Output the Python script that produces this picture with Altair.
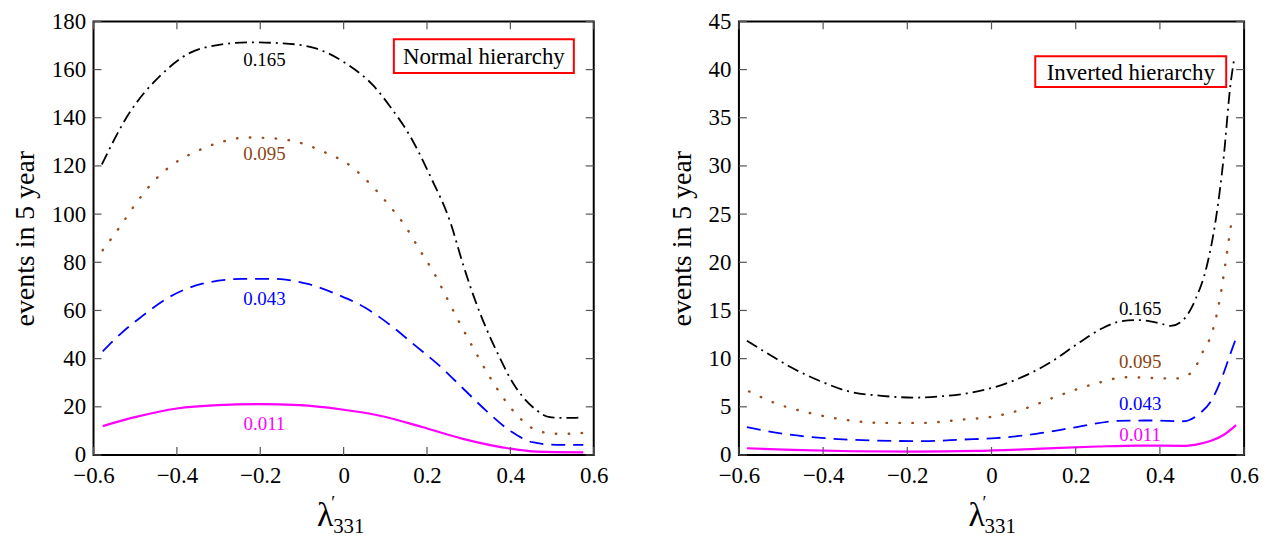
import altair as alt
import pandas as pd

FONT = "Liberation Serif, Times New Roman, Times, serif"

# ---------------- Normal hierarchy (left panel) ----------------
nh_165_x = [-0.58, -0.518, -0.439, -0.341, -0.224, -0.145, -0.067, 0.012, 0.071, 0.110, 0.159, 0.208,
            0.257, 0.286, 0.316, 0.345, 0.375, 0.404, 0.433, 0.463, 0.492, 0.522, 0.551, 0.575]
nh_165_y = [120.6, 140.9, 157.6, 168.8, 171.3, 170.9, 168.8, 161.8, 153.4, 145.0, 132.5, 115.7,
            96.1, 79.4, 64.0, 51.4, 40.2, 30.5, 23.5, 18.6, 15.8, 15.4, 15.4, 15.8]

nh_095_x = [-0.578, -0.537, -0.498, -0.459, -0.41, -0.351, -0.292, -0.233, -0.165, -0.106, -0.047, 0.012,
            0.061, 0.105, 0.149, 0.183, 0.218, 0.247, 0.276, 0.311, 0.345, 0.384, 0.424, 0.463, 0.512,
            0.551, 0.575]
nh_095_y = [85, 94.7, 104.5, 113, 120.6, 126.2, 130, 131.8, 131.4, 129.7, 125.8, 120.6,
            113, 104.5, 94.7, 85, 75.2, 65.4, 55.6, 44.4, 34, 23.5, 15.1, 10.2, 8.8,
            8.8, 9.2]

nh_043_x = [-0.578, -0.537, -0.488, -0.42, -0.341, -0.243, -0.165, -0.086, -0.008, 0.051, 0.11, 0.169,
            0.227, 0.286, 0.345, 0.404, 0.453, 0.512, 0.575]
nh_043_y = [43, 50, 57, 65.4, 71, 73.1, 73.1, 71, 66.1, 61.2, 54.2, 45.8,
            37.5, 27.7, 17.9, 9.5, 5.3, 4.2, 4.2]

nh_011_x = [-0.578, -0.498, -0.4, -0.302, -0.204, -0.106, -0.008, 0.09, 0.188, 0.286, 0.394, 0.463, 0.575]
nh_011_y = [12, 15.8, 19.3, 20.7, 21.1, 20.7, 19, 16.2, 11.6, 6.7, 2.8, 1.4, 1.1]

nh_label_text = ["0.165", "0.095", "0.043", "0.011"]
nh_label_x = [-0.19, -0.19, -0.19, -0.19]
nh_label_y = [164, 124.8, 64.7, 12.7]

# ---------------- Inverted hierarchy (right panel) ----------------
ih_165_x = [-0.581, -0.523, -0.474, -0.406, -0.339, -0.261, -0.184, -0.126, -0.058, 0.0, 0.068, 0.145,
            0.203, 0.261, 0.31, 0.349, 0.397, 0.426, 0.455, 0.484, 0.513, 0.533, 0.552, 0.567, 0.576]
ih_165_y = [11.86, 10.3, 9.05, 7.65, 6.6, 6.14, 5.96, 6.07, 6.4, 6.95, 8.0, 9.75,
            11.5, 13.1, 13.9, 14.0, 13.7, 13.4, 14.0, 16.1, 19.9, 24.5, 31.1, 38.2, 41.0]

ih_095_x = [-0.576, -0.513, -0.445, -0.358, -0.261, -0.164, -0.068, 0.0, 0.068, 0.165, 0.252, 0.319,
            0.377, 0.435, 0.474, 0.503, 0.523, 0.542, 0.557, 0.571]
ih_095_y = [6.6, 5.37, 4.5, 3.72, 3.33, 3.33, 3.68, 3.96, 4.66, 6.24, 7.47, 8.07,
            8.0, 7.93, 8.5, 10.8, 12.6, 16.1, 20.3, 24.5]

ih_043_x = [-0.581, -0.494, -0.397, -0.281, -0.164, -0.068, 0.01, 0.106, 0.203, 0.3, 0.377, 0.455,
            0.494, 0.523, 0.547, 0.567, 0.579]
ih_043_y = [2.9, 2.2, 1.75, 1.5, 1.44, 1.6, 1.75, 2.2, 2.9, 3.54, 3.58, 3.5,
            4.3, 5.7, 8.0, 10.45, 11.9]

ih_011_x = [-0.581, -0.474, -0.329, -0.184, -0.039, 0.106, 0.252, 0.349, 0.455, 0.494, 0.523, 0.552, 0.581]
ih_011_y = [0.7, 0.53, 0.39, 0.35, 0.42, 0.63, 0.88, 0.98, 0.95, 1.16, 1.5, 2.1, 3.1]

ih_label_text = ["0.165", "0.095", "0.043", "0.011"]
ih_label_x = [0.353, 0.353, 0.353, 0.353]
ih_label_y = [15.2, 9.6, 5.3, 2.1]

x_ticks = [-0.6, -0.4, -0.2, 0.0, 0.2, 0.4, 0.6]
nh_y_ticks = [0, 20, 40, 60, 80, 100, 120, 140, 160, 180]
ih_y_ticks = [0, 5, 10, 15, 20, 25, 30, 35, 40, 45]

label_colors = ["#000000", "#8b4513", "#0000ff", "#ff00ff"]
styles = [
    dict(color="#000000", strokeDash=[12, 5, 2, 5], strokeWidth=1.8),
    dict(color="#9a4a1c", strokeDash=[0.5, 12.5], strokeWidth=2.4, strokeCap="round"),
    dict(color="#0000ff", strokeDash=[14, 8], strokeWidth=1.8),
    dict(color="#ff00ff", strokeWidth=2.2),
]


def panel(series, labels, ymax, yticks, W, H, box, box_text, lam):
    xscale = alt.Scale(domain=[-0.6, 0.6], nice=False, zero=False)
    yscale = alt.Scale(domain=[0, ymax], nice=False, zero=False)
    xaxis = alt.Axis(values=x_ticks, ticks=False, domain=False, grid=False, title=None,
                     labelPadding=10, labelFontSize=23, labelColor="black", format=".1~f",
                     labelFlush=False, labelFont=FONT)
    yaxis = alt.Axis(values=yticks, ticks=False, domain=False, grid=False,
                     title="events in 5 year", titleFontSize=28, titleFontWeight="normal",
                     titleColor="black", titlePadding=12, labelPadding=8, labelFontSize=23,
                     labelColor="black", labelFlush=False, labelFont=FONT, titleFont=FONT)
    layers = []
    for (xs, ys), st in zip(series, styles):
        df = pd.DataFrame({"x": xs, "y": ys})
        layers.append(
            alt.Chart(df).mark_line(interpolate="monotone", **st).encode(
                x=alt.X("x:Q", scale=xscale, axis=xaxis),
                y=alt.Y("y:Q", scale=yscale, axis=yaxis),
            )
        )
    # inward ticks on all four sides
    tx = pd.DataFrame({"x": x_ticks})
    ty = pd.DataFrame({"y": yticks})
    tick = dict(color="#555555", strokeWidth=1.2)
    L = 8
    layers.append(alt.Chart(tx).mark_rule(**tick).encode(
        x=alt.X("x:Q", scale=xscale, axis=xaxis), y=alt.value(H), y2=alt.value(H - L)))
    layers.append(alt.Chart(tx).mark_rule(**tick).encode(
        x=alt.X("x:Q", scale=xscale, axis=xaxis), y=alt.value(0), y2=alt.value(L)))
    layers.append(alt.Chart(ty).mark_rule(**tick).encode(
        y=alt.Y("y:Q", scale=yscale, axis=yaxis), x=alt.value(0), x2=alt.value(L)))
    layers.append(alt.Chart(ty).mark_rule(**tick).encode(
        y=alt.Y("y:Q", scale=yscale, axis=yaxis), x=alt.value(W), x2=alt.value(W - L)))
    # curve labels
    lt, lx, ly = labels
    ldf = pd.DataFrame({"t": lt, "x": lx, "y": ly, "c": label_colors})
    layers.append(alt.Chart(ldf).mark_text(fontSize=19, baseline="middle", align="center",
                                           font=FONT).encode(
        x=alt.X("x:Q", scale=xscale, axis=xaxis),
        y=alt.Y("y:Q", scale=yscale, axis=yaxis),
        text="t:N",
        color=alt.Color("c:N", scale=None),
    ))
    # legend box
    one = pd.DataFrame({"a": [0]})
    bx0, by0, bx1, by1 = box
    layers.append(alt.Chart(one).mark_rect(fill="white", stroke="#ff0000", strokeWidth=2).encode(
        x=alt.value(bx0), x2=alt.value(bx1), y=alt.value(by0), y2=alt.value(by1)))
    layers.append(alt.Chart(one).mark_text(text=box_text, fontSize=23, baseline="middle",
                                           align="center", color="black", font=FONT).encode(
        x=alt.value((bx0 + bx1) / 2), y=alt.value((by0 + by1) / 2 + 1)))
    # x-axis title: lambda'_331
    lxp, lyp = lam
    layers.append(alt.Chart(one).mark_text(text="λ", fontSize=34, baseline="alphabetic",
                                           align="center", color="black", font=FONT).encode(
        x=alt.value(lxp), y=alt.value(lyp)))
    layers.append(alt.Chart(one).mark_text(text="′", fontSize=18, baseline="alphabetic",
                                           align="center", color="black", font=FONT).encode(
        x=alt.value(lxp + 8), y=alt.value(lyp - 17)))
    layers.append(alt.Chart(one).mark_text(text="331", fontSize=21, baseline="alphabetic",
                                           align="left", color="black", font=FONT).encode(
        x=alt.value(lxp + 8), y=alt.value(lyp + 7)))
    return alt.layer(*layers).properties(width=W, height=H)


left = panel(
    [(nh_165_x, nh_165_y), (nh_095_x, nh_095_y), (nh_043_x, nh_043_y), (nh_011_x, nh_011_y)],
    (nh_label_text, nh_label_x, nh_label_y),
    180, nh_y_ticks, 503, 436,
    (302, 18, 483, 52), "Normal hierarchy", (233, 507),
)
right = panel(
    [(ih_165_x, ih_165_y), (ih_095_x, ih_095_y), (ih_043_x, ih_043_y), (ih_011_x, ih_011_y)],
    (ih_label_text, ih_label_x, ih_label_y),
    45, ih_y_ticks, 508, 436,
    (298, 35, 490, 66), "Inverted hierarchy", (239, 507),
)

chart = alt.hconcat(left, right, spacing=58).properties(
    padding={"left": 2, "top": 0, "right": 2, "bottom": 0}
).configure(font=FONT).configure_view(stroke="black", strokeWidth=2)

chart.save("out.html", embed_options={"renderer": "svg", "actions": False})
